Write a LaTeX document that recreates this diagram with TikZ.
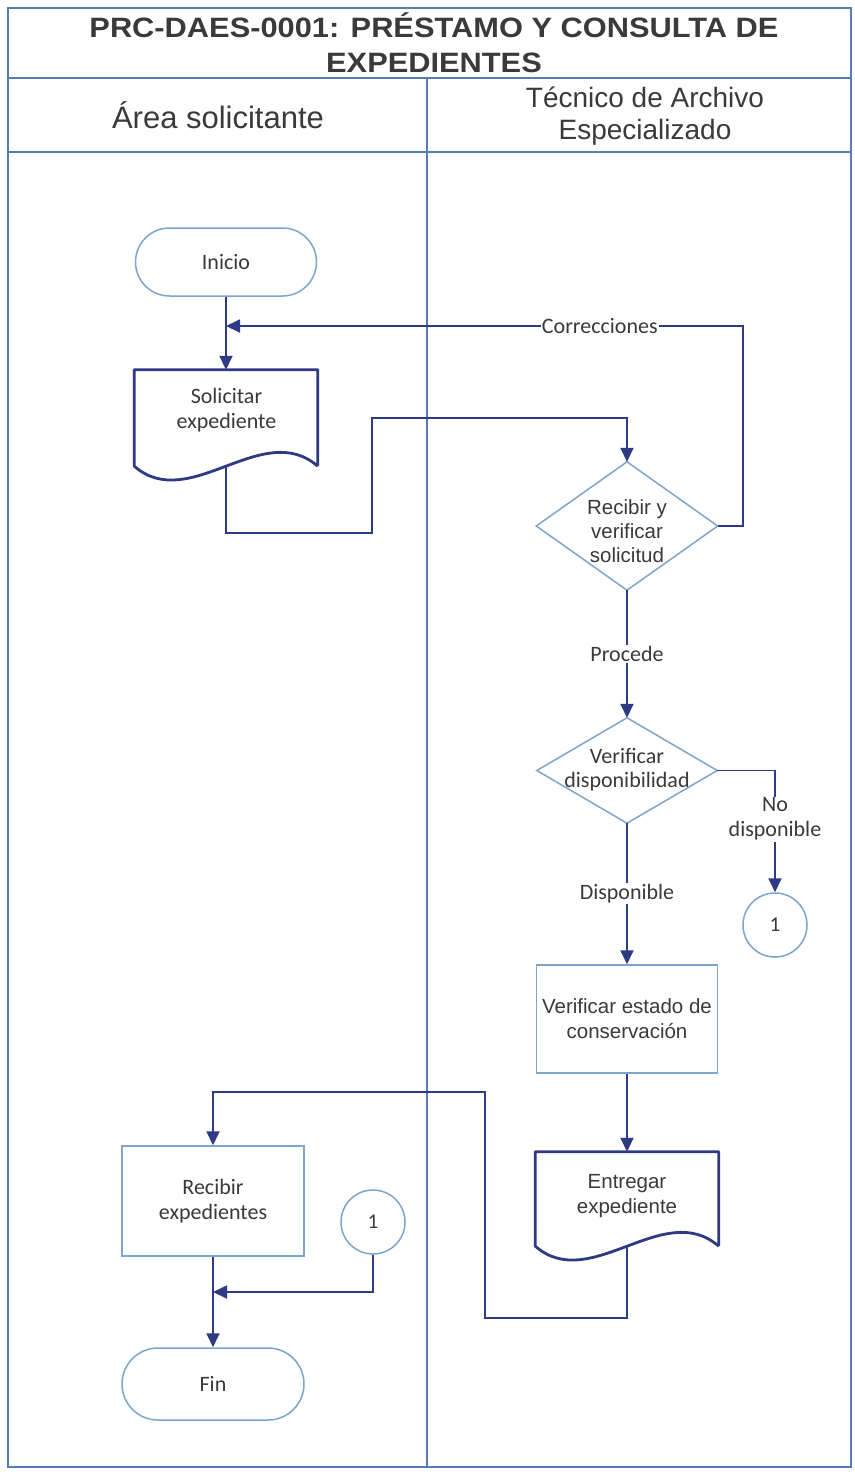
\documentclass[tikz,border=0pt]{standalone}
\usepackage{fontspec}
\setmainfont{Liberation Sans}
\newfontfamily\calfont{Carlito}
\newfontfamily\titlefont[FakeStretch=1.1]{Liberation Sans}
\usetikzlibrary{arrows.meta}
\definecolor{navy}{RGB}{46,58,132}
\definecolor{lblue}{RGB}{125,165,205}
\definecolor{laneblue}{RGB}{85,125,180}
\definecolor{txt}{RGB}{58,58,58}
\tikzset{
  laneline/.style={draw=laneblue, line width=1.5pt},
  conn/.style={draw=navy, line width=1.8pt},
  arr/.style={conn, -{Triangle[length=14pt,width=13pt]}},
  lbl/.style={fill=white, inner sep=1pt, text=txt, font=\calfont\fontsize{22}{25}\selectfont, align=center},
  terminal/.style={draw=lblue, line width=1.5pt, rounded corners=34pt, minimum width=181pt, minimum height=68pt, text=txt, font=\calfont\fontsize{22}{25}\selectfont},
  procbox/.style={draw=lblue, line width=1.5pt, minimum width=181pt, minimum height=108pt, text=txt, align=center},
  shapebox/.style={draw=none, inner sep=0pt},
  docline/.style={draw=navy, line width=2.8pt, line join=round},
  diamline/.style={draw=lblue, line width=1.5pt},
  conncircle/.style={draw=lblue, line width=1.5pt, circle, minimum size=64pt, inner sep=0pt, text=txt, font=\calfont\fontsize{21}{24}\selectfont},
  arialtext/.style={text=txt, align=center, font=\fontsize{20.5}{24}\selectfont},
  caltext/.style={text=txt, align=center, font=\calfont\fontsize{22}{25}\selectfont},
}
\begin{document}
\begin{tikzpicture}[x=1pt, y=-1pt]
\useasboundingbox (0,0) rectangle (854,1472);
\fill[white] (0,0) rectangle (854,1472);
% frame and lanes
\draw[laneline] (8,8) rectangle (851,1467);
\draw[laneline] (8,78) -- (851,78);
\draw[laneline] (8,152) -- (851,152);
\draw[laneline] (427,78) -- (427,1467);
\node[text=txt, align=center, font=\titlefont\bfseries\fontsize{28}{35}\selectfont] (title) at (434,43) {PRC-DAES-0001: PRÉSTAMO Y CONSULTA DE\\EXPEDIENTES};
\node[text=txt, font=\fontsize{31}{34}\selectfont] (laneA) at (218,115) {Área solicitante};
\node[text=txt, align=center, font=\fontsize{28}{32}\selectfont] (laneB) at (645,116) {Técnico de Archivo\\Especializado};
% nodes
\node[terminal] (ini) at (226,262) {Inicio};
\node[shapebox, minimum width=183pt, minimum height=96pt] (sol) at (226,418) {};
\draw[docline] (sol.south east) -- (sol.north east) -- (sol.north west) -- (sol.south west) .. controls +(55,48) and +(-55,-48) .. (sol.south east);
\node[caltext] (solt) at (226.5,410) {Solicitar\\expediente};
\node[shapebox, minimum width=181pt, minimum height=128pt] (d1) at (627,526) {};
\draw[diamline] (d1.north) -- (d1.east) -- (d1.south) -- (d1.west) -- cycle;
\node[arialtext] (d1t) at (627,531) {Recibir y\\verificar\\solicitud};
\node[shapebox, minimum width=180pt, minimum height=105pt] (d2) at (627,770.5) {};
\draw[diamline] (d2.north) -- (d2.east) -- (d2.south) -- (d2.west) -- cycle;
\node[caltext, font=\calfont\fontsize{22}{24}\selectfont] (d2t) at (627,770) {Verificar\\disponibilidad};
\node[conncircle] (c1) at (775,925) {1};
\node[procbox, font=\fontsize{20.5}{25}\selectfont] (ver) at (627,1019) {Verificar estado de\\conservación};
\node[shapebox, minimum width=183pt, minimum height=94pt] (ent) at (627,1199) {};
\draw[docline] (ent.south east) -- (ent.north east) -- (ent.north west) -- (ent.south west) .. controls +(55,48) and +(-55,-48) .. (ent.south east);
\node[arialtext, font=\fontsize{20.5}{25}\selectfont] (entt) at (627,1196) {Entregar\\expediente};
\node[procbox, minimum width=182pt, minimum height=110pt, font=\calfont\fontsize{22}{25}\selectfont] (rec) at (213,1201) {Recibir\\expedientes};
\node[conncircle] (c2) at (373,1222) {1};
\node[terminal, minimum width=182pt, minimum height=72pt, rounded corners=36pt] (fin) at (213,1384) {Fin};
% helper coordinates
\coordinate (corrR) at (743,326);
\coordinate (j1) at (226,326);
\coordinate (b1) at (372,533);
\coordinate (b2) at (372,418);
\coordinate (e1) at (485,1318);
\coordinate (e2) at (485,1092);
\coordinate (j2) at (213,1292);
% connectors
\draw[arr] (ini.south) -- (sol.north);
\draw[arr] (d1.east) -| (corrR) -- node[lbl, pos=0.277] (corrlbl) {Correcciones} (j1);
\draw[arr] (sol.south) |- (b1) -- (b2) -| (d1.north);
\draw[arr] (d1.south) -- node[lbl] (proclbl) {Procede} (d2.north);
\draw[arr] (d2.east) -| node[lbl, pos=0.7] (nolbl) {No\\disponible} (c1.north);
\draw[arr] (d2.south) -- node[lbl] (displbl) {Disponible} (ver.north);
\draw[arr] (ver.south) -- (ent.north);
\draw[arr] (ent.south) |- (e1) -- (e2) -| (rec.north);
\draw[arr] (rec.south) -- (fin.north);
\draw[arr] (c2.south) |- (j2);
\end{tikzpicture}
\end{document}
